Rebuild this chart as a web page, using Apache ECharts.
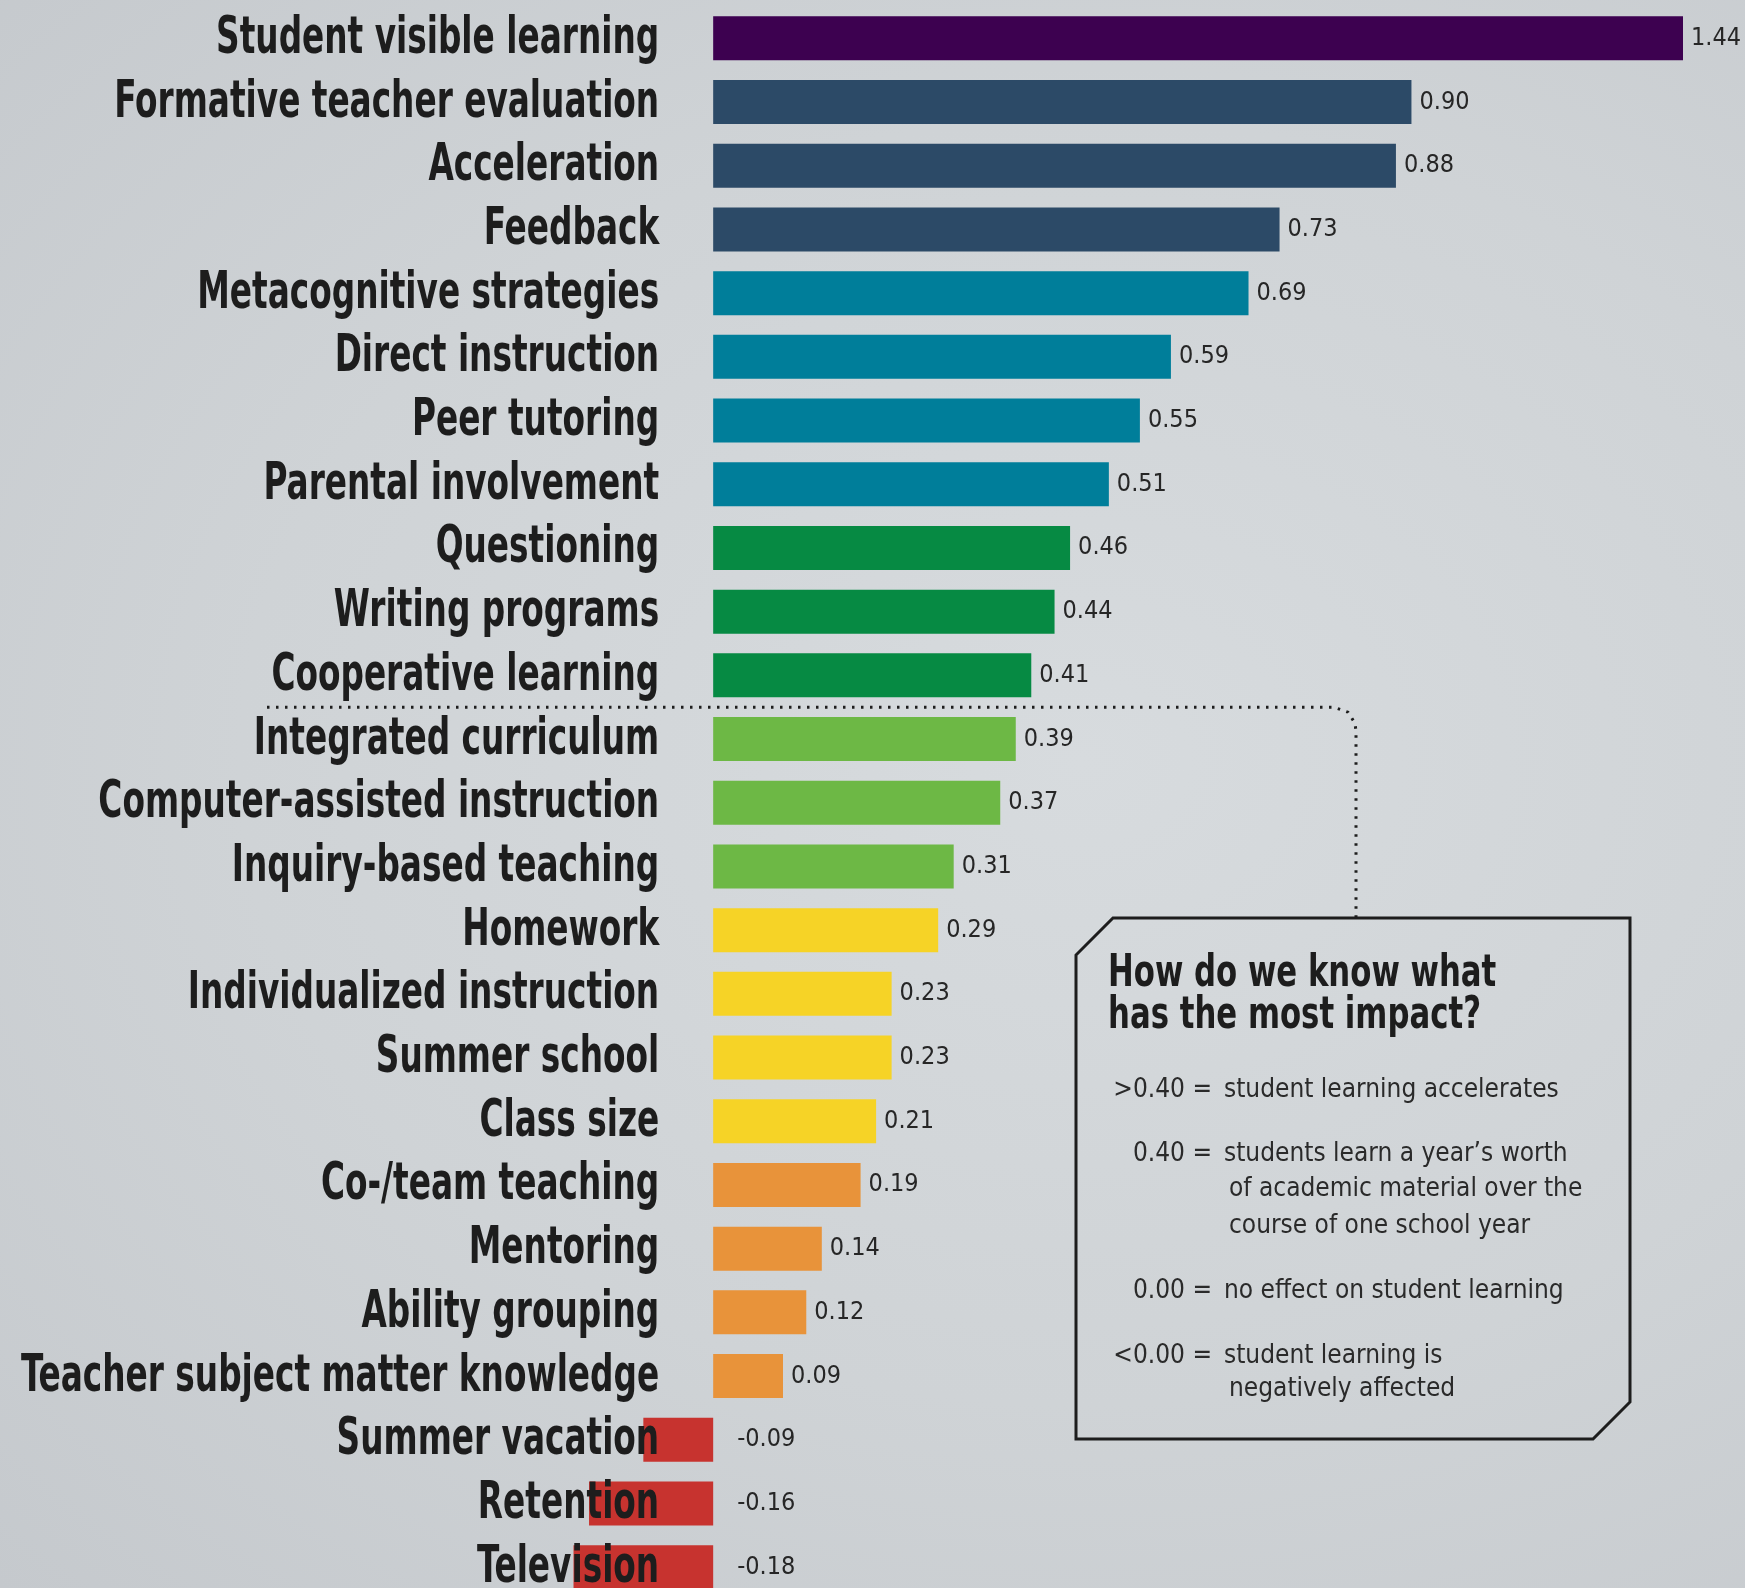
<!DOCTYPE html>
<html><head><meta charset="utf-8">
<script src="https://cdn.jsdelivr.net/npm/echarts@6/dist/echarts.min.js"></script>
<style>
html,body{margin:0;padding:0;}
#c{width:1745px;height:1588px;background:radial-gradient(ellipse at 62% 48%, #d7dbde 0%, #cfd3d6 55%, #c5c9cd 100%);}
</style></head><body><div id="c"></div>
<script>
// ---- data ----
const categories = [
  'Student visible learning','Formative teacher evaluation','Acceleration','Feedback',
  'Metacognitive strategies','Direct instruction','Peer tutoring','Parental involvement',
  'Questioning','Writing programs','Cooperative learning',
  'Integrated curriculum','Computer-assisted instruction','Inquiry-based teaching',
  'Homework','Individualized instruction','Summer school','Class size',
  'Co-/team teaching','Mentoring','Ability grouping','Teacher subject matter knowledge',
  'Summer vacation','Retention','Television'
];
const values = [1.44,0.90,0.88,0.73,0.69,0.59,0.55,0.51,0.46,0.44,0.41,0.39,0.37,0.31,
  0.29,0.23,0.23,0.21,0.19,0.14,0.12,0.09,-0.09,-0.16,-0.18];
const effectBand = [0,1,1,1,2,2,2,2,3,3,3,4,4,4,5,5,5,5,6,6,6,6,7,7,7];
const thresholdAfter = 'Cooperative learning';
const boxTitle = ['How do we know what','has the most impact?'];
const boxKeys = ['>0.40 =','0.40 =','','','0.00 =','<0.00 =',''];
const boxTexts = ['student learning accelerates','students learn a year\u2019s worth',
  'of academic material over the','course of one school year','no effect on student learning',
  'student learning is','negatively affected'];

// ---- style ----
const palette = ['#3d0150','#2c4a67','#007e9a','#068a43','#6db845','#f6d326','#e8933a','#c7332f'];
const COND = "'DejaVu Sans Condensed','Liberation Sans Narrow',sans-serif";
const ink = '#1d1d1d';

const chart = echarts.init(document.getElementById('c'));
const option = {
  backgroundColor: 'transparent',
  animation: false,
  grid: {left: 558, right: 62, top: 6.5, height: 1592.5, containLabel: false, outerBoundsMode: 'none'},
  xAxis: {type: 'value', min: -0.2, max: 1.25, show: false},
  yAxis: {
    type: 'category', data: categories, inverse: true,
    axisLine: {show: false}, axisTick: {show: false}, splitLine: {show: false},
    axisLabel: {show: false}
  },
  series: [{
    type: 'bar', barWidth: 44, clip: true, z: 2,
    data: values.map((v, i) => ({
      value: v, itemStyle: {color: palette[effectBand[i]]},
      label: v < 0 ? {distance: 24} : undefined
    })),
    label: {
      show: true, position: 'right', distance: 8,
      fontFamily: COND, fontSize: 25, color: '#262626',
      formatter: p => p.value.toFixed(2)
    }
  }, {
    // condensed category names, placed through the axes
    type: 'custom', z: 5, clip: false, silent: true,
    encode: {x: 0, y: 1},
    data: categories.map(c => [0, c]),
    renderItem: (params, api) => {
      const idx = api.value(1);
      const p = api.coord([0, idx]);
      return {
        type: 'text', x: p[0] - 54, y: p[1] + 1, scaleX: 0.70,
        style: {text: categories[idx], fontFamily: COND, fontWeight: 'bold', fontSize: 52,
          fill: ink, align: 'right', verticalAlign: 'middle'}
      };
    }
  }]
};
chart.setOption(option);

// annotation graphics
const ti = categories.indexOf(thresholdAfter);
const yA = chart.convertToPixel({yAxisIndex: 0}, categories[ti]);
const yB = chart.convertToPixel({yAxisIndex: 0}, categories[ti + 1]);
const yT = (yA + yB) / 2;
const bx = 1076, by = 918, bw = 554, bh = 521, ch = 37;
const g = [];
g.push({type: 'polyline', z: 10, shape: {points: [[267, yT], [1334, yT], [1348, yT + 5], [1355, yT + 16], [1356, yT + 24], [1356, by]]},
  style: {stroke: ink, lineWidth: 3, lineDash: [2.5, 6.5], fill: null}});
g.push({type: 'polygon', z: 10, shape: {points: [[bx + ch, by], [bx + bw, by], [bx + bw, by + bh - ch], [bx + bw - ch, by + bh], [bx, by + bh], [bx, by + ch]]},
  style: {stroke: ink, lineWidth: 3, fill: 'rgba(0,0,0,0)'}});
boxTitle.forEach((t, i) => g.push({type: 'text', z: 11, x: 1108, y: 974 + i * 42, scaleX: 0.76,
  style: {text: t, fontFamily: COND, fontWeight: 'bold', fontSize: 45, fill: ink, verticalAlign: 'middle'}}));
const rowY = [1090, 1154, 1189, 1226, 1291, 1356, 1389];
boxTexts.forEach((t, i) => {
  const cont = boxKeys[i] === '';
  if (!cont) g.push({type: 'text', z: 11, x: 1212, y: rowY[i],
    style: {text: boxKeys[i], fontFamily: COND, fontSize: 26, fill: '#2a2a2a', align: 'right', verticalAlign: 'middle'}});
  g.push({type: 'text', z: 11, x: cont ? 1229 : 1224, y: rowY[i],
    style: {text: t, fontFamily: COND, fontSize: 26, fill: '#2a2a2a', align: 'left', verticalAlign: 'middle'}});
});
chart.setOption({graphic: g});
</script></body></html>
